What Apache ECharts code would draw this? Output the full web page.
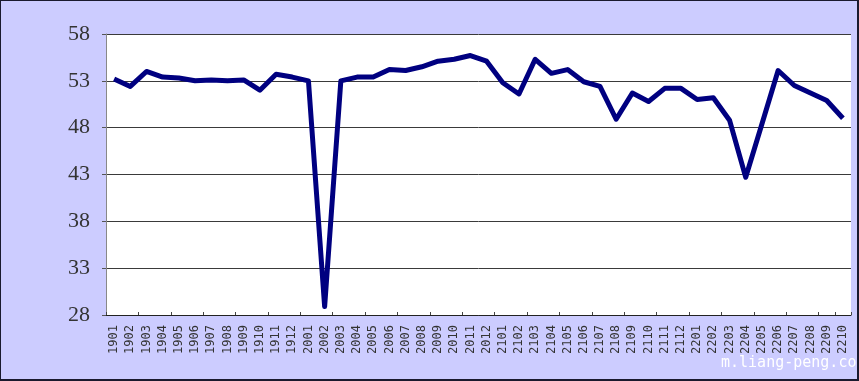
<!DOCTYPE html>
<html>
<head>
<meta charset="utf-8">
<script src="https://cdn.jsdelivr.net/npm/echarts@6/dist/echarts.min.js"></script>
<style>
html,body{margin:0;padding:0;background:#CCCCFF;}
#chart{width:859px;height:381px;box-sizing:border-box;border:1px solid #1a1a2e;border-bottom-width:2px;border-right-width:2px;}
</style>
</head>
<body>
<div id="chart"></div>
<script>
const categories = ['1901','1902','1903','1904','1905','1906','1907','1908','1909','1910','1911','1912',
  '2001','2002','2003','2004','2005','2006','2007','2008','2009','2010','2011','2012',
  '2101','2102','2103','2104','2105','2106','2107','2108','2109','2110','2111','2112',
  '2201','2202','2203','2204','2205','2206','2207','2208','2209','2210'];
const values = [53.2,52.4,54.0,53.4,53.3,53.0,53.1,53.0,53.1,52.0,53.7,53.4,
  53.0,28.9,53.0,53.4,53.4,54.2,54.1,54.5,55.1,55.3,55.7,55.1,
  52.8,51.6,55.3,53.8,54.2,52.9,52.4,48.9,51.7,50.8,52.2,52.2,
  51.0,51.2,48.8,42.7,48.4,54.1,52.5,51.7,50.9,49.0];
const yTicks = [28,33,38,43,48,53,58];
const watermark = 'm.liang-peng.com';

const chart = echarts.init(document.getElementById('chart'), null, {renderer:'canvas'});
chart.setOption({
  backgroundColor:'#CCCCFF',
  animation:false,
  grid:{left:105,right:6,top:33,bottom:64,backgroundColor:'#FFFFFF',show:true,borderWidth:0},
  xAxis:{
    type:'category',
    data:categories,
    boundaryGap:true,
    axisLine:{show:true,lineStyle:{color:'#222',width:1}},
    axisTick:{show:true,inside:true,length:3,interval:1,lineStyle:{color:'#444'}},
    axisLabel:{interval:0,rotate:90,margin:10,fontFamily:'DejaVu Sans Mono',fontSize:12,color:'#333'},
    splitLine:{show:false}
  },
  yAxis:{
    type:'value',
    min:yTicks[0],
    max:yTicks[yTicks.length-1],
    interval:5,
    axisLine:{show:true,lineStyle:{color:'#888',width:1}},
    axisTick:{show:true,length:4,lineStyle:{color:'#555'}},
    axisLabel:{margin:16,fontFamily:'Liberation Serif',fontSize:22,color:'#333'},
    splitLine:{show:true,lineStyle:{color:'#3a3a3a',width:1}}
  },
  series:[{
    type:'line',
    data:values,
    showSymbol:false,
    symbol:'none',
    lineStyle:{color:'#000080',width:5,join:'round'},
    z:3
  }],
  graphic:[{
    type:'text',
    left:720,
    top:355,
    style:{text:watermark,fill:'#FFFFFF',font:'15px "DejaVu Sans Mono"'}
  }]
});
</script>
</body>
</html>
